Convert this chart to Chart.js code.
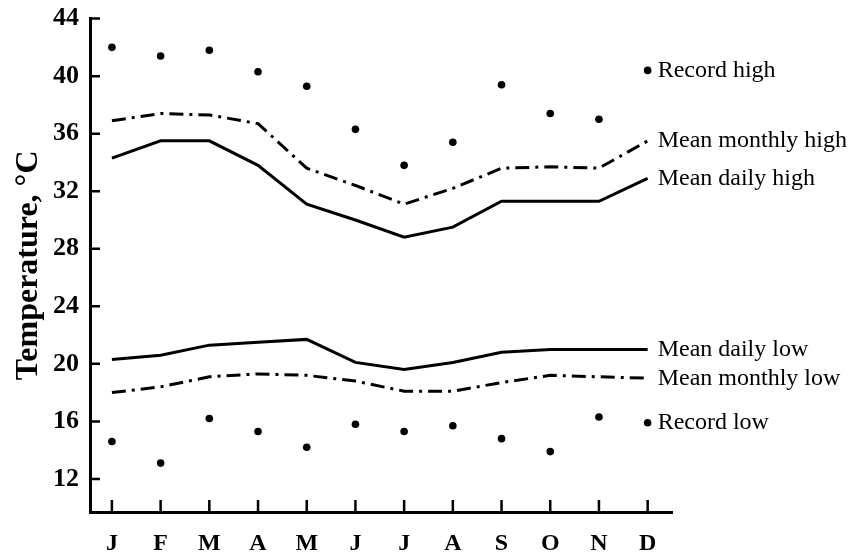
<!DOCTYPE html>
<html>
<head>
<meta charset="utf-8">
<script src="https://cdn.jsdelivr.net/npm/chart.js@4"></script>
<style>
  html, body { margin: 0; padding: 0; background: #fff; }
  #wrap { width: 860px; height: 558px; }
</style>
</head>
<body>
<div id="wrap"><canvas id="tempChart" width="860" height="558"></canvas></div>
<script>
const months = ["J", "F", "M", "A", "M", "J", "J", "A", "S", "O", "N", "D"];
const yTickValues = [12, 16, 20, 24, 28, 32, 36, 40, 44];

const recordHigh = [42.0, 41.4, 41.8, 40.3, 39.3, 36.3, 33.8, 35.4, 39.4, 37.4, 37.0, 40.4];
const meanMonthlyHigh = [36.9, 37.4, 37.3, 36.7, 33.6, 32.4, 31.1, 32.2, 33.6, 33.7, 33.6, 35.5];
const meanDailyHigh = [34.3, 35.5, 35.5, 33.8, 31.1, 30.0, 28.8, 29.5, 31.3, 31.3, 31.3, 32.9];
const meanDailyLow = [20.3, 20.6, 21.3, 21.5, 21.7, 20.1, 19.6, 20.1, 20.8, 21.0, 21.0, 21.0];
const meanMonthlyLow = [18.0, 18.4, 19.1, 19.3, 19.2, 18.8, 18.1, 18.1, 18.7, 19.2, 19.1, 19.0];
const recordLow = [14.6, 13.1, 16.2, 15.3, 14.2, 15.8, 15.3, 15.7, 14.8, 13.9, 16.3, 15.9];

const seriesNames = ["Record high", "Mean monthly high", "Mean daily high",
                     "Mean daily low", "Mean monthly low", "Record low"];

const SERIF = "'Liberation Serif', 'DejaVu Serif', serif";

function toPoints(arr) {
    return arr.map((v, i) => ({ x: i, y: v }));
}

function dotSet(label, arr) {
    return {
        label: label,
        data: toPoints(arr),
        showLine: false,
        pointRadius: 3.8,
        pointBackgroundColor: "#000",
        pointBorderWidth: 0
    };
}

function lineSet(label, arr, dashed) {
    return {
        label: label,
        data: toPoints(arr),
        borderColor: "#000",
        borderWidth: 3,
        borderDash: dashed ? [14, 6, 3, 6] : [],
        pointRadius: 0,
        tension: 0
    };
}

// inward tick marks on both axes
const tickMarks = {
    id: "tickMarks",
    afterDraw(chart) {
        const ctx = chart.ctx;
        const x = chart.scales.x, y = chart.scales.y;
        const area = chart.chartArea;
        ctx.save();
        ctx.strokeStyle = "#000";
        ctx.lineWidth = 2.5;
        ctx.beginPath();
        x.ticks.forEach(t => {
            const px = x.getPixelForValue(t.value);
            ctx.moveTo(px, area.bottom);
            ctx.lineTo(px, area.bottom - 12);
        });
        y.ticks.forEach(t => {
            const py = y.getPixelForValue(t.value);
            ctx.moveTo(area.left, py);
            ctx.lineTo(area.left + 10, py);
        });
        ctx.stroke();
        ctx.restore();
    }
};

// series names at the right end of each line
const endLabels = {
    id: "endLabels",
    afterDraw(chart) {
        const ctx = chart.ctx;
        const x = chart.scales.x, y = chart.scales.y;
        ctx.save();
        ctx.fillStyle = "#000";
        ctx.font = "24px " + SERIF;
        ctx.textBaseline = "middle";
        chart.data.datasets.forEach(ds => {
            const last = ds.data[ds.data.length - 1];
            ctx.fillText(ds.label, x.getPixelForValue(last.x) + 10, y.getPixelForValue(last.y));
        });
        ctx.restore();
    }
};

new Chart("tempChart", {
    type: "line",
    data: {
        datasets: [
            dotSet(seriesNames[0], recordHigh),
            lineSet(seriesNames[1], meanMonthlyHigh, true),
            lineSet(seriesNames[2], meanDailyHigh, false),
            lineSet(seriesNames[3], meanDailyLow, false),
            lineSet(seriesNames[4], meanMonthlyLow, true),
            dotSet(seriesNames[5], recordLow)
        ]
    },
    options: {
        responsive: false,
        animation: false,
        layout: { padding: { left: 0, top: 11, right: 188, bottom: 0 } },
        plugins: {
            legend: { display: false },
            tooltip: { enabled: false }
        },
        scales: {
            x: {
                type: "linear",
                min: -0.45,
                max: 11.5,
                afterBuildTicks: s => { s.ticks = months.map((m, i) => ({ value: i })); },
                afterFit: s => { s.height = 46; },
                grid: { display: false },
                border: { display: true, color: "#000", width: 3 },
                ticks: {
                    color: "#000",
                    padding: 9,
                    autoSkip: false,
                    maxRotation: 0,
                    font: { family: SERIF, size: 24, weight: "bold" },
                    callback: v => months[v]
                }
            },
            y: {
                min: 9.7,
                max: 44,
                afterBuildTicks: s => { s.ticks = yTickValues.map(v => ({ value: v })); },
                afterFit: s => { s.width = 90; },
                grid: { display: false },
                border: { display: true, color: "#000", width: 3 },
                title: {
                    display: true,
                    text: "Temperature, °C",
                    color: "#000",
                    padding: { top: 10, bottom: 0 },
                    font: { family: SERIF, size: 32, weight: "bold" }
                },
                ticks: {
                    color: "#000",
                    padding: 3,
                    font: { family: SERIF, size: 26, weight: "bold" }
                }
            }
        }
    },
    plugins: [tickMarks, endLabels]
});
</script>
</body>
</html>
